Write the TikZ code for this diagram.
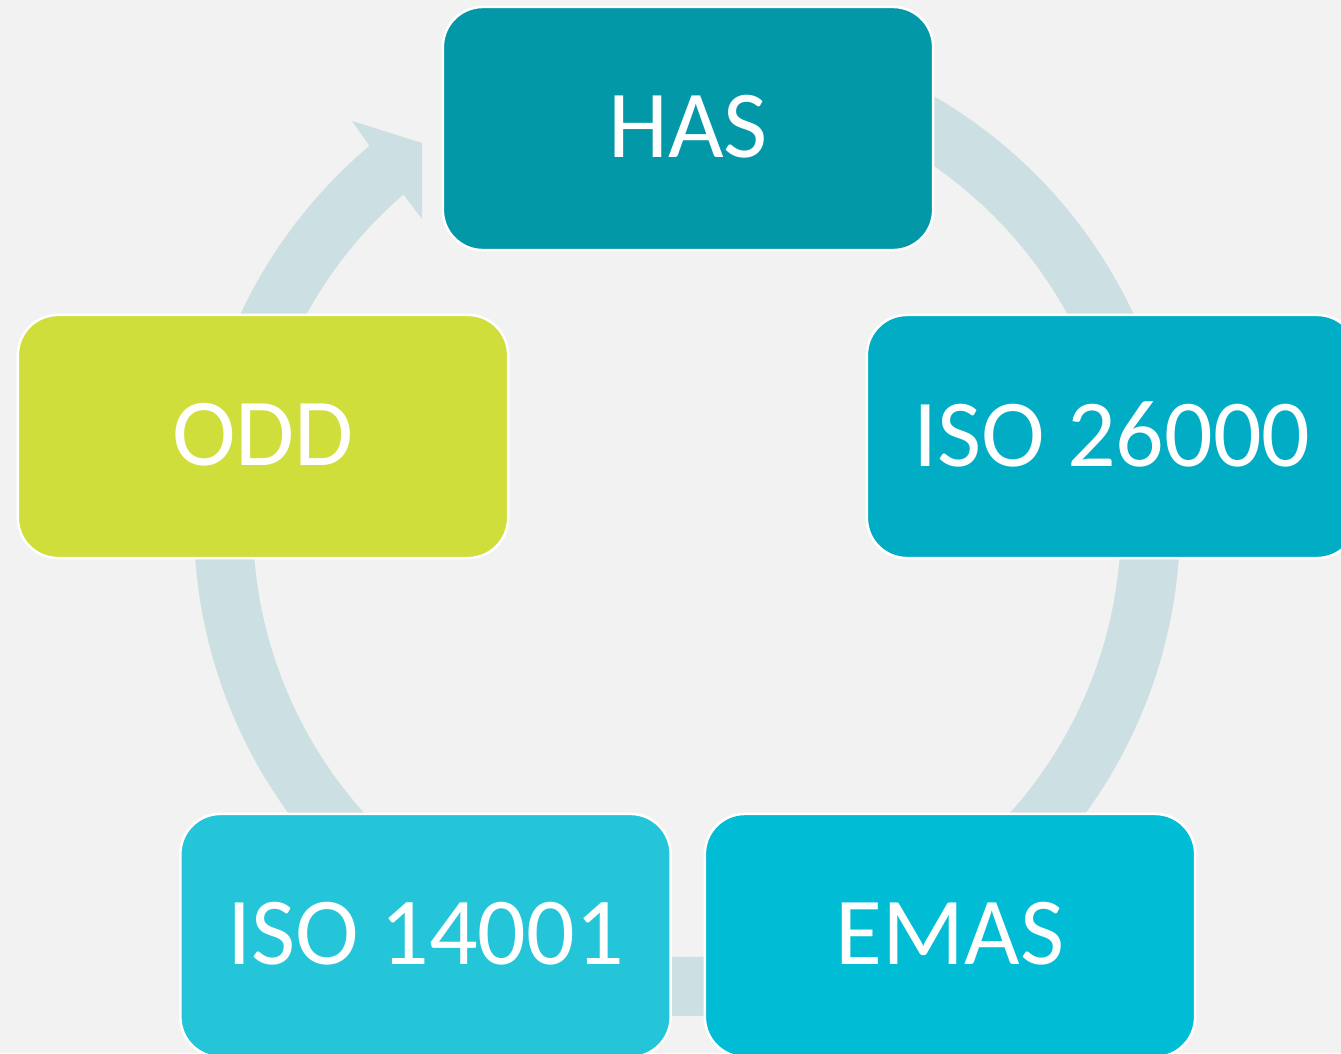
\documentclass[tikz,border=0pt]{standalone}
\usepackage{fontspec}
\setmainfont{Carlito}
\usetikzlibrary{calc}
\definecolor{bgc}{HTML}{F2F2F2}
\definecolor{arcc}{HTML}{CCDFE3}
\definecolor{hasc}{HTML}{0398A7}
\definecolor{isoa}{HTML}{01ADC4}
\definecolor{emasc}{HTML}{00BCD4}
\definecolor{isob}{HTML}{25C5D9}
\definecolor{oddc}{HTML}{CFDE3A}
\newcommand{\liftlabel}[1]{\raisebox{0.022cm}[\height][\depth]{#1}}
\begin{document}
\begin{tikzpicture}[x=0.01cm,y=0.01cm,
  box/.style={draw=white, line width=0.025cm, rounded corners=0.4cm,
    minimum width=4.9cm, minimum height=2.43cm, inner sep=0pt, outer sep=0pt,
    text=white, font=\fontsize{27.3}{32}\selectfont},
  band/.style={fill=arcc, draw=none}]
\fill[bgc] (0,0) rectangle (1341,1053);
\useasboundingbox (0,0) rectangle (1341,1053);
\clip (0,0) rectangle (1341,1053);
\coordinate (C) at (687,530);
% arcs
\fill[band] ($(C)+(65:493)$) arc[start angle=65, end angle=5, radius=493]
  -- ($(C)+(5:434)$) arc[start angle=5, end angle=65, radius=434] -- cycle;
\fill[band] ($(C)+(10:493)$) arc[start angle=10, end angle=-60, radius=493]
  -- ($(C)+(-60:434)$) arc[start angle=-60, end angle=10, radius=434] -- cycle;
\fill[band] ($(C)+(-70:493)$) arc[start angle=-70, end angle=-110, radius=493]
  -- ($(C)+(-110:434)$) arc[start angle=-110, end angle=-70, radius=434] -- cycle;
\fill[band] ($(C)+(-120:493)$) arc[start angle=-120, end angle=-190, radius=493]
  -- ($(C)+(-190:434)$) arc[start angle=-190, end angle=-120, radius=434] -- cycle;
\fill[band] ($(C)+(175:493)$) arc[start angle=175, end angle=130.1, radius=493]
  -- (352,932) -- (422,910) -- (422,834)
  -- ($(C)+(130.8:434)$) arc[start angle=130.8, end angle=175, radius=434] -- cycle;
% boxes
\node[box, fill=hasc] (has) at (688,924.5) {\liftlabel{HAS}};
\node[box, fill=isoa] (iso26) at (1112,616.5) {\liftlabel{ISO 26000}};
\node[box, fill=emasc] (emas) at (950,117.5) {\liftlabel{EMAS}};
\node[box, fill=isob] (iso14) at (425.5,117.5) {\liftlabel{ISO 14001}};
\node[box, fill=oddc] (odd) at (263,616.5) {\liftlabel{ODD}};
\end{tikzpicture}
\end{document}
